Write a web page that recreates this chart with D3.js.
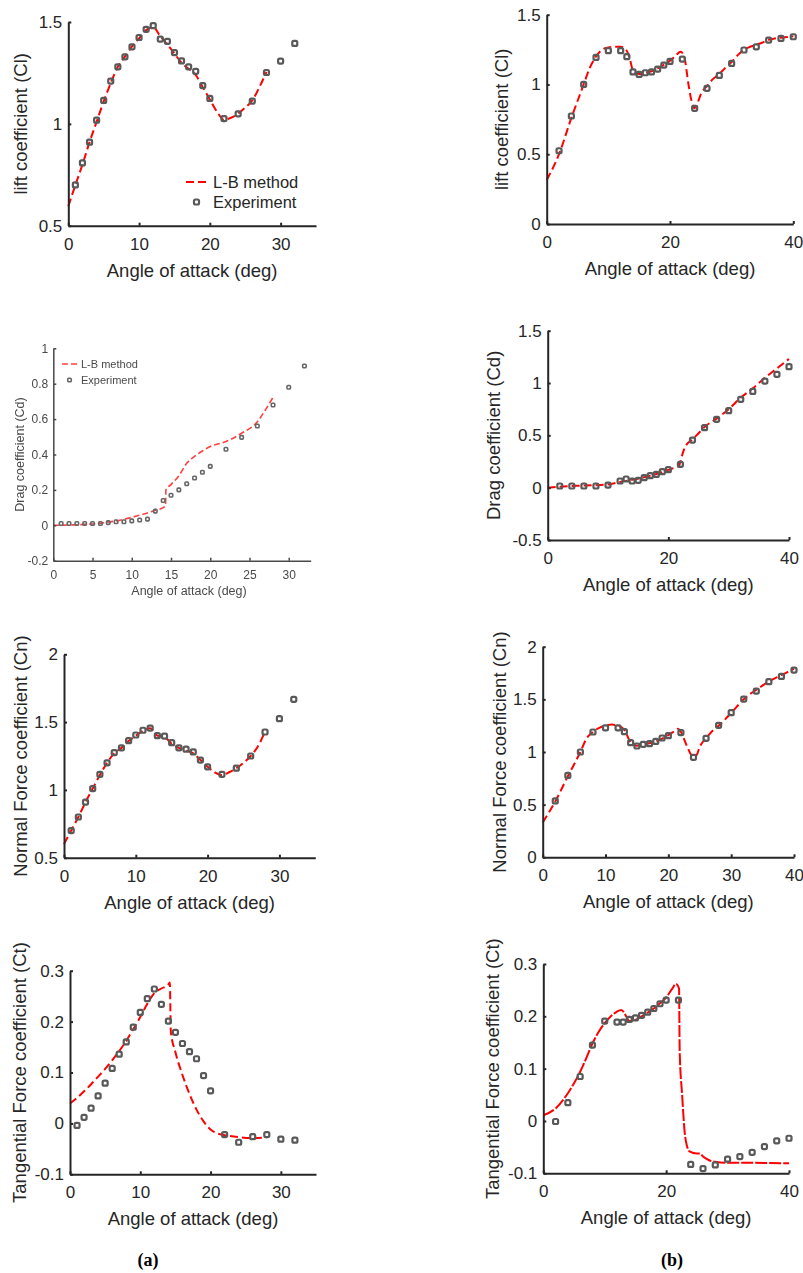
<!DOCTYPE html>
<html>
<head>
<meta charset="utf-8">
<script src="https://cdnjs.cloudflare.com/ajax/libs/d3/7.8.5/d3.min.js"></script>
<style>
body{margin:0;background:#fff}
text{font-family:"Liberation Sans",Arial,Helvetica,sans-serif}
</style>
</head>
<body>
<div id="fig"></div>
<script>
// ---- data ----
// (a) lift
var clA_expX = [1,2,3,4,5,6,7,8,9,10,11,12,13,14,15,16,17,18,19,20,22,24,26,28,30,32];
var clA_exp  = [0.70,0.808,0.91,1.018,1.115,1.21,1.28,1.329,1.378,1.424,1.464,1.482,1.416,1.405,1.35,1.309,1.28,1.258,1.188,1.125,1.026,1.049,1.112,1.252,1.308,1.395];
var clA_lbX  = [0,1,2,3,4,5,6,7,8,9,10,11,12,13,14,15,16,17,18,19,20,21,22,23,24,25,26,27,28];
var clA_lb   = [0.595,0.70,0.80,0.91,1.01,1.11,1.20,1.28,1.33,1.38,1.42,1.46,1.475,1.43,1.39,1.345,1.30,1.27,1.24,1.18,1.12,1.06,1.02,1.03,1.05,1.08,1.115,1.18,1.255];
// (b) lift
var clB_expX = [2,4,6,8,10,12,13,14,15,16,17,18,19,20,22,24,26,28,30,32,34,36,38,40];
var clB_exp  = [0.525,0.774,1.0,1.194,1.242,1.242,1.199,1.09,1.072,1.084,1.09,1.11,1.139,1.165,1.182,0.829,0.972,1.065,1.151,1.247,1.27,1.318,1.33,1.342];
var clB_lbX  = [0,2,4,6,7,8,9,10,11,12,13,13.5,14,15,16,17,18,19,20,21,21.7,22.3,23,23.5,24,24.5,25,26,27,28,29,30,31,32,33,34,35,36,37,38,39,40];
var clB_lb   = [0.315,0.5,0.76,1.0,1.12,1.2,1.25,1.265,1.27,1.27,1.24,1.18,1.10,1.075,1.085,1.095,1.115,1.14,1.17,1.21,1.235,1.2,1.0,0.88,0.83,0.87,0.93,0.99,1.04,1.075,1.12,1.16,1.21,1.25,1.27,1.285,1.30,1.32,1.33,1.335,1.34,1.345];
// (a) drag
var cdA_expX = [1,2,3,4,5,6,7,8,9,10,11,12,13,14,15,16,17,18,19,20,22,24,26,28,30,32];
var cdA_exp  = [0.01,0.01,0.01,0.01,0.01,0.01,0.015,0.02,0.02,0.025,0.03,0.035,0.08,0.14,0.17,0.20,0.235,0.267,0.30,0.333,0.43,0.497,0.561,0.68,0.78,0.90];
var cdA_lbX  = [0,2,4,6,8,10,12,13,14,14.3,14.35,15,16,17,18,19,20,22,24,26,27,28];
var cdA_lb   = [0,0.002,0.005,0.012,0.025,0.045,0.07,0.085,0.1,0.11,0.2,0.23,0.28,0.35,0.39,0.42,0.445,0.473,0.52,0.585,0.65,0.723];
// (b) drag
var cdB_expX = [2,4,6,8,10,12,13,14,15,16,17,18,19,20,22,24,26,28,30,32,34,36,38,40];
var cdB_exp  = [0.016,0.016,0.016,0.016,0.025,0.064,0.083,0.064,0.07,0.096,0.115,0.127,0.153,0.172,0.223,0.455,0.573,0.653,0.736,0.844,0.92,1.019,1.083,1.156];
var cdB_lbX  = [0,2,6,10,12,14,16,18,20,21,21.8,22,22.5,23,24,25,26,28,30,32,34,36,38,40];
var cdB_lb   = [0,0.01,0.02,0.03,0.055,0.075,0.1,0.13,0.17,0.19,0.21,0.25,0.35,0.41,0.46,0.52,0.58,0.66,0.75,0.86,0.95,1.05,1.14,1.23];
// (a) normal force
var cnA_expX = [1,2,3,4,5,6,7,8,9,10,11,12,13,14,15,16,17,18,19,20,22,24,26,28,30,32];
var cnA_exp  = [0.70,0.80,0.91,1.01,1.115,1.20,1.275,1.31,1.363,1.405,1.44,1.456,1.40,1.397,1.348,1.31,1.30,1.28,1.22,1.17,1.115,1.16,1.25,1.427,1.525,1.668];
var cnA_lbX  = [0,1,2,3,4,5,6,7,8,9,10,11,12,13,14,15,16,17,18,19,20,21,22,23,24,25,26,27,28];
var cnA_lb   = [0.60,0.70,0.80,0.91,1.01,1.11,1.20,1.27,1.31,1.36,1.40,1.435,1.455,1.40,1.39,1.34,1.31,1.29,1.27,1.22,1.17,1.13,1.11,1.13,1.16,1.20,1.25,1.32,1.43];
// (b) normal force
var cnB_expX = [2,4,6,8,10,12,13,14,15,16,17,18,19,20,22,24,26,28,30,32,34,36,38,40];
var cnB_exp  = [0.535,0.778,1.0,1.19,1.23,1.23,1.193,1.089,1.057,1.073,1.079,1.10,1.133,1.155,1.184,0.949,1.13,1.253,1.373,1.503,1.579,1.668,1.718,1.778];
var cnB_lbX  = [0,2,4,6,7,8,9,10,11,12,13,13.5,14,15,16,18,20,21,21.5,22,23,24,24.5,25,26,27,28,30,32,33,34,36,38,40];
var cnB_lb   = [0.33,0.53,0.77,1.0,1.13,1.19,1.23,1.25,1.26,1.25,1.21,1.15,1.09,1.06,1.07,1.10,1.16,1.20,1.22,1.19,1.05,0.95,0.97,1.05,1.13,1.20,1.25,1.37,1.50,1.55,1.59,1.67,1.73,1.79];
// (a) tangential force
var ctA_expX = [1,2,3,4,5,6,7,8,9,10,11,12,13,14,15,16,17,18,19,20,22,24,26,28,30,32];
var ctA_exp  = [-0.004,0.012,0.03,0.054,0.079,0.108,0.136,0.16,0.189,0.218,0.245,0.264,0.234,0.201,0.179,0.157,0.141,0.127,0.094,0.064,-0.022,-0.037,-0.026,-0.022,-0.031,-0.033];
var ctA_lbX  = [0,1,2,3,4,5,6,7,8,9,10,11,12,13,14,14.2,14.35,15,16,17,18,19,20,21,22,24,26,28];
var ctA_lb   = [0.039,0.05,0.063,0.077,0.092,0.107,0.124,0.142,0.162,0.185,0.209,0.235,0.256,0.265,0.273,0.277,0.18,0.14,0.095,0.058,0.027,0.004,-0.012,-0.02,-0.023,-0.027,-0.029,-0.027];
// (b) tangential force
var ctB_expX = [2,4,6,8,10,12,13,14,15,16,17,18,19,20,22,24,26,28,30,32,34,36,38,40];
var ctB_exp  = [-0.001,0.035,0.085,0.145,0.191,0.189,0.189,0.194,0.197,0.202,0.208,0.215,0.224,0.231,0.231,-0.083,-0.091,-0.084,-0.073,-0.068,-0.06,-0.049,-0.038,-0.033];
var ctB_lbX  = [0,2,4,5,6,7,8,9,10,11,12,12.7,13.5,14,15,16,17,18,19,20,21,21.6,22.1,22.2,22.6,23.1,23.8,25,25.5,26,27,28,30,34,40];
var ctB_lb   = [0.011,0.024,0.053,0.072,0.094,0.12,0.148,0.17,0.187,0.2,0.209,0.212,0.2,0.191,0.193,0.2,0.207,0.215,0.225,0.236,0.253,0.262,0.253,0.135,0.05,-0.03,-0.058,-0.062,-0.062,-0.068,-0.075,-0.078,-0.08,-0.08,-0.081];

var xlab = "Angle of attack (deg)";
var legendNames = ["L-B method", "Experiment"];

var svg = d3.select("#fig").append("svg")
    .attr("width", 803).attr("height", 1273)
    .style("display", "block").style("background", "#fff");

// soft blur for the low-res drag panel
svg.append("defs").append("filter").attr("id", "soft")
    .append("feGaussianBlur").attr("stdDeviation", 0.45);

function zip(a, b){ return a.map(function(v, i){ return [v, b[i]]; }); }

function drawPanel(p){
    var x = d3.scaleLinear().domain(p.xd).range([p.x0, p.x1]);
    var y = d3.scaleLinear().domain(p.yd).range([p.yb, p.yt]);
    var ink = p.ink || "#262626";
    var g = svg.append("g");
    if(p.blur) g.attr("filter", "url(#soft)");

    // L-B method curve
    var line = d3.line().x(function(d){ return x(d[0]); }).y(function(d){ return y(d[1]); })
        .curve(d3.curveMonotoneX);
    g.append("path").datum(zip(p.lbX, p.lb))
        .attr("d", line).attr("fill", "none")
        .attr("stroke", p.red || "#ff0000").attr("stroke-width", p.lw || 2)
        .attr("stroke-dasharray", p.dash || "8,4");

    // experiment markers
    var m = p.ms || 5;
    g.selectAll("rect.exp").data(zip(p.expX, p.exp)).enter().append("rect")
        .attr("x", function(d){ return x(d[0]) - m/2; })
        .attr("y", function(d){ return y(d[1]) - m/2; })
        .attr("width", m).attr("height", m).attr("rx", m*0.3)
        .attr("fill", "none").attr("stroke", p.mc || "#595959").attr("stroke-width", p.mw || 2.2);

    // axes (MATLAB style, box off, ticks inward)
    var fmt = function(d){ return String(d); };
    var ax = g.append("g").attr("transform", "translate(0," + p.yb + ")")
        .call(d3.axisBottom(x).tickValues(p.xt).tickFormat(fmt)
            .tickSizeInner(-p.tl).tickSizeOuter(0).tickPadding(p.xpad));
    var ay = g.append("g").attr("transform", "translate(" + p.x0 + ",0)")
        .call(d3.axisLeft(y).tickValues(p.yt2).tickFormat(fmt)
            .tickSizeInner(-p.tl).tickSizeOuter(0).tickPadding(p.ypad));
    [ax, ay].forEach(function(a){
        a.select(".domain").attr("stroke", ink).attr("stroke-width", p.aw || 2);
        a.selectAll(".tick line").attr("stroke", ink).attr("stroke-width", p.aw || 2);
        a.selectAll(".tick text").attr("fill", ink).style("font-size", p.tf + "px")
            .style("font-family", '"Liberation Sans",Arial,sans-serif');
    });

    g.append("text").text(xlab)
        .attr("x", (p.x0 + p.x1)/2 + (p.xlDx || 0)).attr("y", p.yb + p.xlDy)
        .attr("text-anchor", "middle").attr("fill", ink).style("font-size", p.lf + "px");
    g.append("text").text(p.ylab)
        .attr("transform", "translate(" + (p.x0 + p.ylDx) + "," + ((p.yb + p.yt)/2) + ") rotate(-90)")
        .attr("text-anchor", "middle").attr("dy", "0.35em").attr("fill", ink).style("font-size", p.lf + "px");

    if(p.legend){
        var L = p.legend;
        g.append("line").attr("x1", L.x).attr("x2", L.x + L.len).attr("y1", L.y).attr("y2", L.y)
            .attr("stroke", p.red || "#ff0000").attr("stroke-width", p.lw || 2)
            .attr("stroke-dasharray", p.dash || "8,4");
        g.append("rect").attr("x", L.x + L.len/2 - m/2).attr("y", L.y + L.gap - m/2)
            .attr("width", m).attr("height", m).attr("rx", m*0.3)
            .attr("fill", "none").attr("stroke", p.mc || "#595959").attr("stroke-width", p.mw || 2.2);
        legendNames.forEach(function(t, i){
            g.append("text").text(t).attr("x", L.tx).attr("y", L.y + i*L.gap)
                .attr("dy", "0.35em").attr("fill", ink).style("font-size", L.fs + "px");
        });
    }
}

var big = {tl: 3, xpad: 12, ypad: 6, tf: 17, lf: 18.5, xlDy: 51};

var panels = [
    {x0: 68.3, x1: 316, xd: [0,35], xt: [0,10,20,30], yb: 225.7, yt: 22, yd: [0.5,1.5], yt2: [0.5,1,1.5],
     expX: clA_expX, exp: clA_exp, lbX: clA_lbX, lb: clA_lb, ylab: "lift coefficient (Cl)", ylDx: -48,
     legend: {x: 186, len: 21, y: 182, gap: 20, tx: 213, fs: 16.5}},
    {x0: 546.7, x1: 793.3, xd: [0,40], xt: [0,20,40], yb: 224, yt: 14.7, yd: [0,1.5], yt2: [0,0.5,1,1.5],
     expX: clB_expX, exp: clB_exp, lbX: clB_lbX, lb: clB_lb, ylab: "lift coefficient (Cl)", ylDx: -45},
    {x0: 53.3, x1: 310.7, xd: [0,32.8], xt: [0,5,10,15,20,25,30], yb: 560.7, yt: 348.3, yd: [-0.2,1], yt2: [-0.2,0,0.2,0.4,0.6,0.8,1],
     expX: cdA_expX, exp: cdA_exp, lbX: cdA_lbX, lb: cdA_lb, ylab: "Drag coefficient (Cd)", ylDx: -34,
     tl: 3, xpad: 10, ypad: 5, tf: 12, lf: 12.5, xlDy: 34, xlDx: 7, blur: true, ink: "#4a4a4a",
     red: "#ff4040", mc: "#666", ms: 3.5, mw: 1.6, lw: 1.6, aw: 1.5, dash: "6,3",
     legend: {x: 62, len: 15, y: 364, gap: 16, tx: 81, fs: 11}},
    {x0: 547.7, x1: 789, xd: [0,40], xt: [0,20,40], yb: 540, yt: 330.7, yd: [-0.5,1.5], yt2: [-0.5,0,0.5,1,1.5],
     expX: cdB_expX, exp: cdB_exp, lbX: cdB_lbX, lb: cdB_lb, ylab: "Drag coefficient (Cd)", ylDx: -54},
    {x0: 64, x1: 315.3, xd: [0,35], xt: [0,10,20,30], yb: 857.7, yt: 654.3, yd: [0.5,2], yt2: [0.5,1,1.5,2],
     expX: cnA_expX, exp: cnA_exp, lbX: cnA_lbX, lb: cnA_lb, ylab: "Normal Force coefficient (Cn)", ylDx: -43},
    {x0: 542.7, x1: 794, xd: [0,40], xt: [0,10,20,30,40], yb: 857.3, yt: 646.7, yd: [0,2], yt2: [0,0.5,1,1.5,2],
     expX: cnB_expX, exp: cnB_exp, lbX: cnB_lbX, lb: cnB_lb, ylab: "Normal Force coefficient (Cn)", ylDx: -43},
    {x0: 70, x1: 316, xd: [0,35], xt: [0,10,20,30], yb: 1174.3, yt: 970.7, yd: [-0.1,0.3], yt2: [-0.1,0,0.1,0.2,0.3],
     expX: ctA_expX, exp: ctA_exp, lbX: ctA_lbX, lb: ctA_lb, ylab: "Tangential Force coefficient (Ct)", ylDx: -50},
    {x0: 543.3, x1: 789, xd: [0,40], xt: [0,20,40], yb: 1173.3, yt: 964, yd: [-0.1,0.3], yt2: [-0.1,0,0.1,0.2,0.3],
     expX: ctB_expX, exp: ctB_exp, lbX: ctB_lbX, lb: ctB_lb, ylab: "Tangential Force coefficient (Ct)", ylDx: -51,
     dash: "12,2"}
];

panels.forEach(function(p){
    var cfg = Object.assign({}, big, p);
    drawPanel(cfg);
});

// sub-figure captions
[["(a)", 148], ["(b)", 672]].forEach(function(c){
    svg.append("text").text(c[0]).attr("x", c[1]).attr("y", 1266)
        .attr("text-anchor", "middle").attr("fill", "#000")
        .style("font-family", '"Liberation Serif","Times New Roman",serif')
        .style("font-weight", "bold").style("font-size", "18px");
});
</script>
</body>
</html>
